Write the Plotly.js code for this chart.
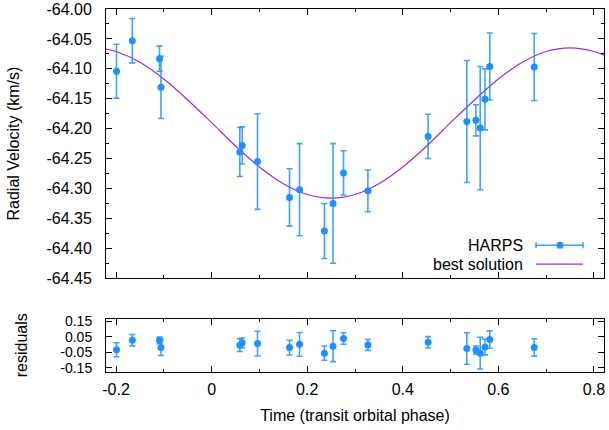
<!DOCTYPE html>
<html>
<head>
<meta charset="utf-8">
<script src="https://cdn.plot.ly/plotly-3.0.1.min.js"></script>
<style>
html,body{margin:0;padding:0;background:#fff;}
#chart{width:609px;height:430px;}
</style>
</head>
<body>
<div id="chart"></div>
<script>
// ---- data ----
const phase = [-0.199, -0.166, -0.109, -0.106, 0.059, 0.064, 0.096, 0.163, 0.184, 0.236,
               0.254, 0.276, 0.327, 0.453, 0.534, 0.553, 0.562, 0.572, 0.582, 0.675];
const rv = [-64.104, -64.053, -64.083, -64.131, -64.239, -64.228, -64.255, -64.315, -64.302, -64.371,
            -64.325, -64.274, -64.304, -64.213, -64.188, -64.186, -64.199, -64.151, -64.096, -64.097];
const rvErr = [0.045, 0.037, 0.021, 0.052, 0.041, 0.031, 0.080, 0.048, 0.077, 0.046,
               0.100, 0.037, 0.035, 0.037, 0.102, 0.026, 0.103, 0.051, 0.056, 0.056];
const resid = [-0.034, 0.028, 0.027, -0.019, -0.004, 0.011, 0.006, -0.020, 0.001, -0.056,
               -0.011, 0.039, -0.003, 0.014, -0.026, -0.036, -0.056, -0.016, 0.032, -0.019];
// best-solution curve
const fitPhase = [-0.225, -0.2, -0.15, -0.1, -0.05, 0, 0.05, 0.1, 0.15, 0.2, 0.25, 0.3,
                  0.35, 0.4, 0.45, 0.5, 0.55, 0.6, 0.65, 0.7, 0.75, 0.8, 0.825];
const fitRV = [-64.0665, -64.071, -64.089, -64.117, -64.152, -64.190, -64.229, -64.264, -64.292, -64.310, -64.316, -64.310,
               -64.292, -64.264, -64.229, -64.190, -64.152, -64.117, -64.089, -64.071, -64.065, -64.071, -64.0787];
const xTickVals = [-0.2, 0, 0.2, 0.4, 0.6, 0.8];
const xTickText = ['-0.2', '0', '0.2', '0.4', '0.6', '0.8'];
const yTickVals = [-64.45, -64.40, -64.35, -64.30, -64.25, -64.20, -64.15, -64.10, -64.05, -64.00];
const yTickText = ['-64.45', '-64.40', '-64.35', '-64.30', '-64.25', '-64.20', '-64.15', '-64.10', '-64.05', '-64.00'];
const rTickVals = [-0.15, -0.05, 0.05, 0.15];
const rTickText = ['-0.15', '-0.05', '0.05', '0.15'];
const seriesNames = ['HARPS', 'best solution'];
const axisTitles = {y: 'Radial Velocity (km/s)', y2: 'residuals', x: 'Time (transit orbital phase)'};

const BLUE = '#1e90ff';
const ERRC = 'rgba(30,144,255,0.85)';
const VIOLET = '#9a2be2';
const FONT = 'Liberation Sans, Arial, Helvetica, sans-serif';
const FS = 16;

const traces = [
  {
    x: fitPhase, y: fitRV, type: 'scatter', mode: 'lines', name: seriesNames[1],
    line: {color: VIOLET, width: 1.2, shape: 'spline'}, xaxis: 'x', yaxis: 'y', hoverinfo: 'skip'
  },
  {
    x: phase, y: rv, type: 'scatter', mode: 'markers', name: seriesNames[0],
    marker: {color: BLUE, size: 7},
    error_y: {type: 'data', array: rvErr, visible: true, color: ERRC, thickness: 1.6, width: 3},
    xaxis: 'x', yaxis: 'y'
  },
  {
    x: phase, y: resid, type: 'scatter', mode: 'markers', name: 'residuals',
    marker: {color: BLUE, size: 7},
    error_y: {type: 'data', array: rvErr, visible: true, color: ERRC, thickness: 1.6, width: 3},
    xaxis: 'x2', yaxis: 'y2'
  }
];

const L = 106, R = 604, T = 9, B = 371.7, W = 609, H = 430;
const plotH = B - T, plotW = R - L;
const fy = py => (B - py) / plotH;
const fx = px => (px - L) / plotW;

const tf = {family: FONT, size: FS, color: '#000'};
const tfSmall = {family: FONT, size: 14, color: '#000'};
const axCommon = {
  showline: true, linecolor: '#000', linewidth: 1, mirror: 'allticks',
  ticks: 'inside', tickcolor: '#000', ticklen: 6, tickwidth: 1,
  showgrid: false, zeroline: false, tickfont: tf, ticklabeloverflow: 'allow'
};

const layout = {
  width: W, height: H,
  margin: {l: L, r: W - R, t: T, b: H - B, pad: 0},
  paper_bgcolor: '#fff', plot_bgcolor: '#fff',
  showlegend: false,
  font: tf,
  xaxis: Object.assign({}, axCommon, {
    domain: [0, 1], anchor: 'y', range: [-0.221, 0.821], tickmode: 'array', tickvals: xTickVals,
    showticklabels: false, matches: 'x2',
    minor: {dtick: 0.1, tick0: 0, ticklen: 3, ticks: 'inside', tickcolor: '#000', showgrid: false}
  }),
  yaxis: Object.assign({}, axCommon, {
    domain: [fy(278), 1], anchor: 'x', range: [-64.45, -64.00],
    tickmode: 'array', tickvals: yTickVals, ticktext: yTickText, ticklabelstandoff: 10,
    minor: {dtick: 0.025, tick0: -64, ticklen: 3, ticks: 'inside', tickcolor: '#000', showgrid: false},
    title: {text: axisTitles.y, font: tf, standoff: 22}
  }),
  xaxis2: Object.assign({}, axCommon, {
    domain: [0, 1], anchor: 'y2', range: [-0.221, 0.821],
    tickmode: 'array', tickvals: xTickVals, ticktext: xTickText, ticklabelstandoff: 3,
    minor: {dtick: 0.1, tick0: 0, ticklen: 3, ticks: 'inside', tickcolor: '#000', showgrid: false},
    title: {text: axisTitles.x, font: tf, standoff: 12}
  }),
  yaxis2: Object.assign({}, axCommon, {
    domain: [0, fy(318.3)], anchor: 'x2', range: [-0.178, 0.168],
    tickmode: 'array', tickvals: rTickVals, ticktext: rTickText, ticklabelstandoff: 10,
    tickfont: tfSmall,
    title: {text: axisTitles.y2, font: tf, standoff: 28}
  }),
  annotations: [
    {xref: 'paper', yref: 'paper', x: fx(525), y: fy(245), xanchor: 'right', yanchor: 'middle',
     text: seriesNames[0], showarrow: false, font: tf},
    {xref: 'paper', yref: 'paper', x: fx(525), y: fy(264), xanchor: 'right', yanchor: 'middle',
     text: seriesNames[1], showarrow: false, font: tf}
  ],
  shapes: [
    {type: 'line', xref: 'paper', yref: 'paper', x0: fx(536), x1: fx(583), y0: fy(245), y1: fy(245),
     line: {color: ERRC, width: 1.6}},
    {type: 'line', xref: 'paper', yref: 'paper', x0: fx(536), x1: fx(536), y0: fy(242), y1: fy(248),
     line: {color: ERRC, width: 1.6}},
    {type: 'line', xref: 'paper', yref: 'paper', x0: fx(583), x1: fx(583), y0: fy(242), y1: fy(248),
     line: {color: ERRC, width: 1.6}},
    {type: 'circle', xref: 'paper', yref: 'paper', xsizemode: 'pixel', ysizemode: 'pixel',
     xanchor: fx(560), yanchor: fy(245), x0: -3.5, x1: 3.5, y0: -3.5, y1: 3.5,
     fillcolor: BLUE, line: {color: BLUE, width: 0}},
    {type: 'line', xref: 'paper', yref: 'paper', x0: fx(536), x1: fx(583), y0: fy(264), y1: fy(264),
     line: {color: VIOLET, width: 1.2}}
  ]
};

Plotly.newPlot('chart', traces, layout, {staticPlot: true, displayModeBar: false});
</script>
</body>
</html>
